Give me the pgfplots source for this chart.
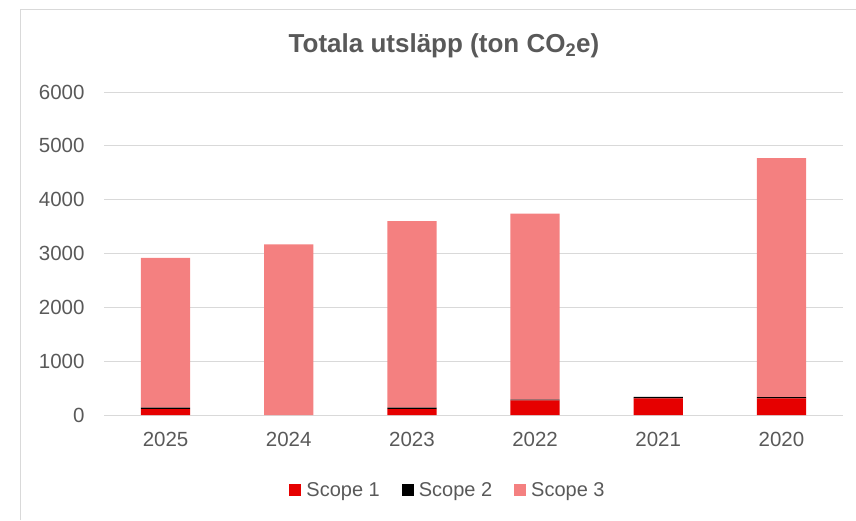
\documentclass[border=0pt]{standalone}
\usepackage{fontspec}
\setmainfont{Liberation Sans}
\usepackage{pgfplots}
\pgfplotsset{compat=1.18}
\definecolor{sOne}{HTML}{E60000}
\definecolor{sTwo}{HTML}{000000}
\definecolor{sThree}{HTML}{F48080}
\definecolor{txt}{HTML}{595959}
\definecolor{gridc}{HTML}{D9D9D9}
\begin{document}
\begin{tikzpicture}[x=1pt,y=1pt]
\useasboundingbox (0,0) rectangle (856,520);
\draw[gridc, line width=1pt] (20,0) -- (20,510) -- (856,510);
\node[txt, font=\bfseries\fontsize{26}{30}\selectfont] at (444,474) {Totala utsläpp (ton CO\textsubscript{2}e)};
\begin{axis}[
 at={(104pt,105pt)}, anchor=south west, scale only axis,
 width=739pt, height=323pt,
 ybar stacked, bar width=0.4,
 xmin=-0.5, xmax=5.5, ymin=0, ymax=6000,
 xtick={0,...,5}, xticklabels={2025,2024,2023,2022,2021,2020},
 ytick={0,1000,...,6000},
 axis line style={draw=none},
 ymajorgrids, grid style={gridc, line width=1pt},
 major tick length=0pt,
 tick label style={txt, font=\fontsize{20.5}{24}\selectfont},
 /pgf/number format/assume math mode=true,
 /pgf/number format/1000 sep={},
 yticklabel style={xshift=-16pt},
 xticklabel style={yshift=-14pt},
 legend style={at={(0.4655,-0.232)}, anchor=center, draw=none, fill=none,
   legend columns=3, font=\fontsize{20}{24}\selectfont, text=txt,
   /tikz/every odd column/.append style={column sep=3pt},
   /tikz/every even column/.append style={column sep=20pt}},
 legend image code/.code={\fill[#1] (0pt,-6pt) rectangle (12pt,6pt);},
]
\addplot[fill=sOne, draw=none] coordinates {(0,110) (1,0) (2,110) (3,270) (4,310) (5,310)};
\addplot[fill=sTwo, draw=none] coordinates {(0,25) (1,0) (2,25) (3,15) (4,25) (5,20)};
\addplot[fill=sThree, draw=none] coordinates {(0,2785) (1,3170) (2,3465) (3,3455) (4,0) (5,4440)};
\legend{Scope 1, Scope 2, Scope 3}
\end{axis}
\end{tikzpicture}
\end{document}
